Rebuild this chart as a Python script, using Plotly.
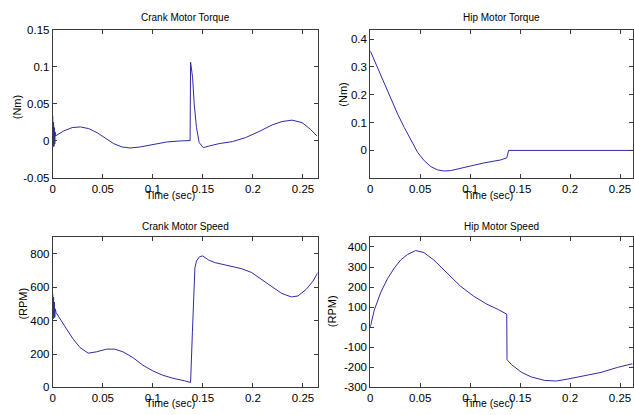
import plotly.graph_objects as go

# ---------------- data ----------------
crank_torque_t = [0, 0.0004, 0.0008, 0.0012, 0.0016, 0.002, 0.0024, 0.0028, 0.011, 0.0194,
                  0.0276, 0.036, 0.0442, 0.0525, 0.0608, 0.0691, 0.0773, 0.0873, 0.1006,
                  0.1138, 0.127, 0.1372, 0.1377, 0.1397, 0.1413, 0.1436, 0.1463, 0.1503,
                  0.1563, 0.1662, 0.1794, 0.1926, 0.206, 0.2192, 0.2291, 0.239, 0.249,
                  0.2573, 0.2639]
crank_torque_v = [0.034, -0.008, 0.025, -0.007, 0.018, -0.004, 0.012, 0.0068, 0.0135, 0.018,
                  0.0189, 0.0166, 0.0112, 0.0036, -0.0036, -0.0081, -0.0095, -0.0081, -0.0045,
                  -0.0014, 0.0, 0.0005, 0.106, 0.0856, 0.0496, 0.018, -0.0023, -0.009,
                  -0.0068, -0.0036, -0.0009, 0.0045, 0.0126, 0.0216, 0.0261, 0.028, 0.0248,
                  0.0158, 0.0068]

hip_torque_t = [0, 0.0076, 0.0142, 0.0209, 0.0275, 0.0341, 0.0408, 0.0474, 0.054, 0.0606,
                0.0673, 0.0739, 0.0805, 0.0971, 0.1137, 0.1302, 0.1365, 0.1372, 0.1378,
                0.1385, 0.264]
hip_torque_v = [0.358, 0.296, 0.237, 0.183, 0.13, 0.082, 0.038, -0.007, -0.037, -0.058,
                -0.070, -0.074, -0.0726, -0.058, -0.045, -0.0345, -0.027, -0.02, -0.01,
                0.0, 0.0]

crank_speed_t = [0, 0.0004, 0.0008, 0.0012, 0.0016, 0.002, 0.0025, 0.0033, 0.0073, 0.0139,
                 0.0205, 0.0272, 0.0354, 0.0437, 0.0536, 0.0619, 0.0702, 0.08, 0.09, 0.1,
                 0.11, 0.12, 0.1315, 0.1377, 0.1395, 0.141, 0.142, 0.1436, 0.1467, 0.1497,
                 0.1557, 0.1623, 0.1755, 0.1887, 0.1987, 0.2086, 0.2185, 0.2285, 0.2384,
                 0.245, 0.2533, 0.26, 0.2649]
crank_speed_v = [560, 410, 540, 415, 510, 420, 470, 448, 408, 348,
                 288, 239, 205, 213, 229, 229, 213, 179, 133, 99,
                 73, 55, 40, 30, 330, 600, 715, 756, 782, 786,
                 762, 746, 730, 710, 687, 647, 603, 563, 541,
                 547, 587, 636, 687]

hip_speed_t = [0, 0.004, 0.0106, 0.0173, 0.0239, 0.0305, 0.0372, 0.0454, 0.0537, 0.0636,
               0.0769, 0.0902, 0.1034, 0.1167, 0.1282, 0.1366, 0.1369, 0.1416, 0.1515,
               0.1614, 0.1747, 0.1863, 0.1978, 0.2144, 0.231, 0.2475, 0.2624]
hip_speed_v = [0, 85, 175, 242, 294, 335, 362, 382, 372, 335,
               270, 205, 155, 115, 88, 65, -162, -187, -225,
               -248, -265, -268, -258, -242, -225, -200, -182]

x_tickvals = [0, 0.05, 0.1, 0.15, 0.2, 0.25]
x_ticktext = ["0", "0.05", "0.1", "0.15", "0.2", "0.25"]
ct_tickvals = [-0.05, 0, 0.05, 0.1, 0.15]
ct_ticktext = ["-0.05", "0", "0.05", "0.1", "0.15"]
ht_tickvals = [0, 0.1, 0.2, 0.3, 0.4]
ht_ticktext = ["0", "0.1", "0.2", "0.3", "0.4"]
cs_tickvals = [0, 200, 400, 600, 800]
cs_ticktext = ["0", "200", "400", "600", "800"]
hs_tickvals = [-300, -200, -100, 0, 100, 200, 300, 400]
hs_ticktext = ["-300", "-200", "-100", "0", "100", "200", "300", "400"]

titles = ["Crank Motor Torque", "Hip Motor Torque", "Crank Motor Speed", "Hip Motor Speed"]
ylabels = ["(Nm)", "(Nm)", "(RPM)", "(RPM)"]
xlabel = "Time (sec)"

# ---------------- figure ----------------
W, H = 634, 415
FONT = "Liberation Sans, Arial, Helvetica, sans-serif"
LINE = "#2c2ca6"
AX = "#3a3a3a"
VC, VS = 207.5, 1.0267  # vertical layout stretch about the middle

def px_x(p):
    return p / W

def px_y(p):
    return 1 - (VC + (p - VC) * VS) / H

fig = go.Figure()
series = [(crank_torque_t, crank_torque_v), (hip_torque_t, hip_torque_v),
          (crank_speed_t, crank_speed_v), (hip_speed_t, hip_speed_v)]
for i, (t, v) in enumerate(series):
    sfx = "" if i == 0 else str(i + 1)
    fig.add_trace(go.Scatter(x=t, y=v, mode="lines", line=dict(color=LINE, width=1),
                             xaxis="x" + sfx, yaxis="y" + sfx, showlegend=False,
                             hoverinfo="skip"))

xdoms = [[px_x(50), px_x(316)], [px_x(369), px_x(633)]]
ydoms = [[px_y(178), px_y(29)], [px_y(388), px_y(237)]]
yranges = [[-0.05, 0.15], [-0.0995, 0.4346], [0, 900], [-300, 450]]
xranges = [[0, 0.2645], [0, 0.263]]
ytv = [(ct_tickvals, ct_ticktext), (ht_tickvals, ht_ticktext),
       (cs_tickvals, cs_ticktext), (hs_tickvals, hs_ticktext)]

common = dict(showline=True, linecolor=AX, linewidth=1, mirror="ticks", ticks="inside",
              ticklen=4, tickcolor=AX, showgrid=False, zeroline=False,
              tickfont=dict(family=FONT, size=11.5, color="#000"), fixedrange=True)

layout = dict(width=W, height=H, margin=dict(l=0, r=0, t=0, b=0),
              paper_bgcolor="white", plot_bgcolor="white", showlegend=False)
for i in range(4):
    r, c = divmod(i, 2)
    sfx = "" if i == 0 else str(i + 1)
    layout["xaxis" + sfx] = dict(domain=xdoms[c], range=xranges[c], anchor="y" + sfx,
                                 tickvals=x_tickvals, ticktext=x_ticktext, **common)
    layout["yaxis" + sfx] = dict(domain=ydoms[r], range=yranges[i], anchor="x" + sfx,
                                 tickvals=ytv[i][0], ticktext=ytv[i][1], **common)
fig.update_layout(**layout)

ann = []
title_pos = [(183, 17), (501, 17), (183, 227), (501, 227)]
xlab_pos = [(168, 195), (488, 195), (168, 404), (488, 404)]
ylab_pos = [(14, 107), (342, 94), (20, 304), (330, 311)]
for i in range(4):
    tx, ty = title_pos[i]
    ann.append(dict(text=titles[i], x=px_x(tx), y=px_y(ty), xref="paper", yref="paper",
                    showarrow=False, xanchor="center", yanchor="middle",
                    font=dict(family=FONT, size=10, color="#000")))
    lx, ly = xlab_pos[i]
    ann.append(dict(text=xlabel, x=px_x(lx), y=px_y(ly), xref="paper", yref="paper",
                    showarrow=False, xanchor="center", yanchor="middle",
                    font=dict(family=FONT, size=10.5, color="#000")))
    yx, yy = ylab_pos[i]
    ann.append(dict(text=ylabels[i], x=px_x(yx), y=px_y(yy), xref="paper", yref="paper",
                    showarrow=False, xanchor="center", yanchor="middle", textangle=-90,
                    font=dict(family=FONT, size=11, color="#000")))
fig.update_layout(annotations=ann)

post = (
    "document.documentElement.style.margin='0';"
    "document.documentElement.style.padding='0';"
    "document.documentElement.style.overflow='hidden';"
    "document.body.style.margin='0';"
    "document.body.style.padding='0';"
    "document.body.style.overflow='hidden';"
    "var gd=document.getElementById('{plot_id}');"
    "gd.style.position='fixed';gd.style.left='0px';gd.style.top='0px';"
)
fig.write_html("out.html", config={"displayModeBar": False}, post_script=post)
